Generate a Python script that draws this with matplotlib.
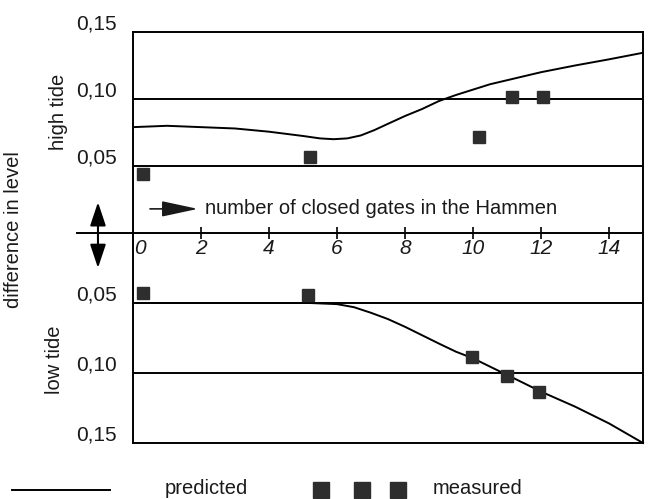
import matplotlib
matplotlib.use('Agg')
import matplotlib.pyplot as plt
from matplotlib.lines import Line2D

# ---- data ----
# predicted difference in level, high tide
pred_hi_x = [0, 1, 2, 3, 4, 5, 5.5, 5.9, 6.3, 6.7, 7.1, 7.5, 8, 8.5, 9, 9.5, 10, 10.5, 11, 12, 13, 14, 15]
pred_hi_y = [0.079, 0.080, 0.079, 0.078, 0.0756, 0.0724, 0.0706, 0.0700, 0.0706, 0.0728, 0.0768,
             0.0815, 0.0873, 0.0925, 0.0985, 0.103, 0.107, 0.111, 0.114, 0.120, 0.125, 0.1296, 0.1345]
# measured, high tide
meas_hi_x = [0.3, 5.2, 10.18, 11.14, 12.06]
meas_hi_y = [0.044, 0.057, 0.072, 0.1015, 0.1015]

# predicted difference in level, low tide (plotted downward)
pred_lo_x = [0, 5.2, 6, 6.5, 7, 7.5, 8, 8.5, 9, 9.5, 10, 10.8, 11.5, 12, 13, 14, 15]
pred_lo_y = [0.050, 0.050, 0.0508, 0.053, 0.057, 0.0615, 0.067, 0.073, 0.079, 0.0848, 0.0895,
             0.099, 0.1073, 0.1133, 0.124, 0.136, 0.150]
# measured, low tide
meas_lo_x = [0.3, 5.15, 9.98, 10.99, 11.94]
meas_lo_y = [0.043, 0.0445, 0.0885, 0.102, 0.1133]

x_ticks = [0, 2, 4, 6, 8, 10, 12, 14]
y_ticks = [0.05, 0.10, 0.15]
y_ticklabels = ['0,05', '0,10', '0,15']

# ---- style ----
NUM = dict(family='Liberation Sans', size=15, color='#1a1a1a')
TXT = dict(family='Liberation Sans', size=14.5, color='#1a1a1a')
LW = 1.4
MCOL = '#2e2e2e'

W, H = 648, 499
fig = plt.figure(figsize=(W / 100, H / 100), dpi=100)


def px_box(x0, y0, x1, y1):
    return [x0 / W, (H - y1) / H, (x1 - x0) / W, (y1 - y0) / H]


ax_hi = fig.add_axes(px_box(133, 32, 643, 233))
ax_lo = fig.add_axes(px_box(133, 233, 643, 443))

for ax in (ax_hi, ax_lo):
    ax.set_xlim(0, 15)
    ax.set_yticks([])
    ax.patch.set_visible(False)
    for s in ax.spines.values():
        s.set_linewidth(LW)
    for v in y_ticks[:2]:
        ax.axhline(v, color='k', lw=LW)

ax_hi.set_ylim(0, 0.15)
ax_lo.set_ylim(0.15, 0)
ax_lo.spines['top'].set_visible(False)
ax_lo.set_xticks([])
ax_hi.set_zorder(3)

# x axis ticks crossing the zero line
ax_hi.set_xticks(x_ticks[1:])
ax_hi.set_xticklabels([])
ax_hi.tick_params(axis='x', direction='inout', length=8, width=1.2)

# curves and measurements
ax_hi.plot(pred_hi_x, pred_hi_y, color='k', lw=LW)
ax_hi.plot(meas_hi_x, meas_hi_y, 's', color=MCOL, ms=9, mec=MCOL, clip_on=False)
ax_lo.plot(pred_lo_x, pred_lo_y, color='k', lw=LW, clip_on=False)
ax_lo.plot(meas_lo_x, meas_lo_y, 's', color=MCOL, ms=9, mec=MCOL, clip_on=False)

# zero line extends to the left of the frame
ax_hi.plot([-1.65, 0], [0, 0], color='k', lw=LW, clip_on=False)

# x tick labels below zero line
for xv in x_ticks:
    dx = 7 if xv == 0 else 0
    ax_hi.annotate(str(xv), xy=(xv, 0), xytext=(dx, -6), textcoords='offset pixels',
                   ha='center', va='top', style='italic',
                   annotation_clip=False, **NUM)

# y tick labels, sitting a little above their lines
for ax in (ax_hi, ax_lo):
    for v, lab in zip(y_ticks, y_ticklabels):
        ax.annotate(lab, xy=(0, v), xycoords=('axes fraction', 'data'),
                    xytext=(-16, 8), textcoords='offset pixels', ha='right', va='center',
                    annotation_clip=False, **NUM)

# double arrow on the level axis
arrow = dict(arrowstyle='-|>,head_length=0.9,head_width=0.3', color='k', lw=1.5,
             shrinkA=0, shrinkB=0, mutation_scale=16)
ax_hi.annotate('', xy=(-1.03, 0.023), xytext=(-1.03, 0), arrowprops=arrow, annotation_clip=False)
ax_lo.annotate('', xy=(-1.03, 0.025), xytext=(-1.03, 0), arrowprops=arrow, annotation_clip=False)

# axis caption with arrow
ax_hi.annotate('', xy=(1.91, 0.018), xytext=(0.5, 0.018),
               arrowprops=dict(arrowstyle='-|>,head_length=1.4,head_width=0.3', color='#1a1a1a',
                               lw=1.2, shrinkA=0, shrinkB=0, mutation_scale=16))
ax_hi.text(2.12, 0.018, 'number of closed gates in the Hammen', ha='left', va='center', **TXT)

# side labels
fig.text(58 / W, 1 - 112 / H, 'high tide', rotation=90, ha='center', va='center', **TXT)
fig.text(55 / W, 1 - 360 / H, 'low tide', rotation=90, ha='center', va='center', **TXT)
fig.text(14 / W, 1 - 230 / H, 'difference in level', rotation=90, ha='center', va='center', **TXT)

# legend along the bottom
fig.add_artist(Line2D([12 / W, 110 / W], [1 - 490 / H] * 2, color='k', lw=LW))
fig.text(165 / W, 1 - 488 / H, 'predicted', ha='left', va='center', **TXT)
for xp in (321, 362, 398):
    fig.add_artist(Line2D([xp / W], [1 - 490 / H], marker='s', ms=11, color=MCOL, mec=MCOL))
fig.text(433 / W, 1 - 488 / H, 'measured', ha='left', va='center', **TXT)

fig.savefig('out.png', dpi=100)
